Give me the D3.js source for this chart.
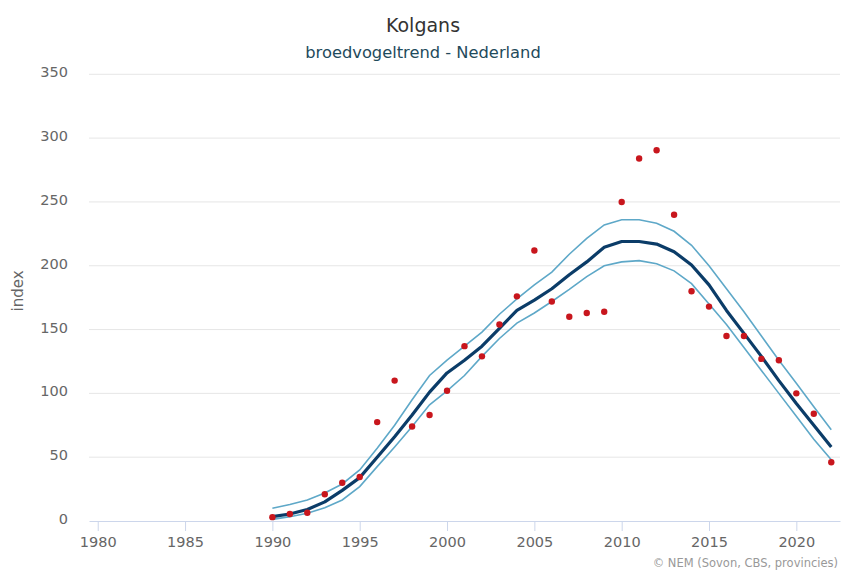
<!DOCTYPE html>
<html>
<head>
<meta charset="utf-8">
<script src="https://cdn.jsdelivr.net/npm/d3@7"></script>
<style>
  body { margin: 0; background: #fff; }
  svg { display: block; font-family: "DejaVu Sans", sans-serif; }
</style>
</head>
<body>
<div id="chart"></div>
<script>
// Kolgans - broedvogeltrend Nederland
const years = d3.range(1990, 2023)
const indexValues = [3, 5.5, 6.5, 21, 30, 34.5, 77.5, 110, 74, 83, 102, 137, 129, 154, 176, 212, 172,
  160, 163, 164, 250, 284, 290.5, 240, 180, 168, 145, 145, 127, 126, 100, 84, 46]
const trend = [3.4, 5.5, 9, 15, 24, 34, 50, 66, 83, 101, 116, 126, 137, 151, 165, 173, 182,
  193, 203, 214.5, 219, 219, 217, 211, 200.6, 185, 165, 147, 129, 110, 92, 75, 58]
const upper = [10, 13, 16.5, 22, 29, 40, 57, 75, 95, 114, 126, 137, 148, 162, 174, 185, 195,
  209, 221.5, 232, 236, 236, 233.3, 227, 216, 200, 182, 164, 145, 126, 108, 89.5, 71.5]
const lower = [1.3, 3.4, 6, 10.4, 16.5, 27, 42.6, 58, 74, 91, 102, 114, 129, 143, 155, 163, 172,
  181.5, 191.5, 200, 203, 204, 201.5, 196, 186, 170, 154, 136, 118, 100, 82, 64, 48]
const xTicks = [1980, 1985, 1990, 1995, 2000, 2005, 2010, 2015, 2020]
const yTicks = [0, 50, 100, 150, 200, 250, 300, 350]

const width = 841
const height = 572

const x = d3.scaleLinear().domain([1979.5, 2022.5]).range([89, 840])
const y = d3.scaleLinear().domain([0, 350]).range([521, 74.3])

const svg = d3.select("#chart").append("svg")
    .attr("width", width)
    .attr("height", height)

// gridlines
svg.append("g")
  .selectAll("line")
  .data(yTicks.filter(d => d > 0))
  .enter().append("line")
    .attr("x1", 89).attr("x2", 840)
    .attr("y1", d => y(d)).attr("y2", d => y(d))
    .attr("stroke", "#e6e6e6")
    .attr("stroke-width", 1)

// y axis labels
svg.append("g")
  .selectAll("text")
  .data(yTicks)
  .enter().append("text")
    .attr("x", 68)
    .attr("y", d => y(d) - 2)
    .attr("dy", "0.35em")
    .attr("text-anchor", "end")
    .attr("fill", "#666")
    .style("font-size", "14.5px")
    .text(d => d)

svg.append("text")
    .attr("transform", "translate(23," + 291 + ") rotate(-90)")
    .attr("text-anchor", "middle")
    .attr("fill", "#666")
    .style("font-size", "15px")
    .text("index")

// x axis
const xAxis = svg.append("g")
    .attr("transform", "translate(0,521)")
    .call(d3.axisBottom(x).tickValues(xTicks).tickFormat(d3.format("d")).tickSize(10).tickSizeOuter(0).tickPadding(6))
xAxis.select(".domain").attr("stroke", "#ccd6eb")
xAxis.selectAll(".tick line").attr("stroke", "#ccd6eb")
xAxis.selectAll(".tick text")
    .attr("fill", "#666")
    .style("font-size", "14.5px")
    .style("font-family", "DejaVu Sans, sans-serif")

// lines
const line = d3.line()
    .x((d, i) => x(years[i]))
    .y(d => y(d))

svg.append("path").datum(upper)
    .attr("d", line).attr("fill", "none")
    .attr("stroke", "#5ea8c8").attr("stroke-width", 1.6)
svg.append("path").datum(lower)
    .attr("d", line).attr("fill", "none")
    .attr("stroke", "#5ea8c8").attr("stroke-width", 1.6)
svg.append("path").datum(trend)
    .attr("d", line).attr("fill", "none")
    .attr("stroke", "#0b3c68").attr("stroke-width", 3.2)
    .attr("stroke-linejoin", "round")

// dots
svg.append("g")
  .selectAll("circle")
  .data(indexValues)
  .enter().append("circle")
    .attr("cx", (d, i) => x(years[i]))
    .attr("cy", d => y(d))
    .attr("r", 3.2)
    .attr("fill", "#c8161d")

// titles
svg.append("text")
    .attr("x", 423).attr("y", 32)
    .attr("text-anchor", "middle")
    .attr("fill", "#333")
    .style("font-size", "19px")
    .text("Kolgans")

svg.append("text")
    .attr("x", 423).attr("y", 57.5)
    .attr("text-anchor", "middle")
    .attr("fill", "#1f4b5c")
    .style("font-size", "16.3px")
    .text("broedvogeltrend - Nederland")

// credits
svg.append("text")
    .attr("x", 838).attr("y", 567)
    .attr("text-anchor", "end")
    .attr("fill", "#999")
    .style("font-size", "11.5px")
    .text("© NEM (Sovon, CBS, provincies)")
</script>
</body>
</html>
